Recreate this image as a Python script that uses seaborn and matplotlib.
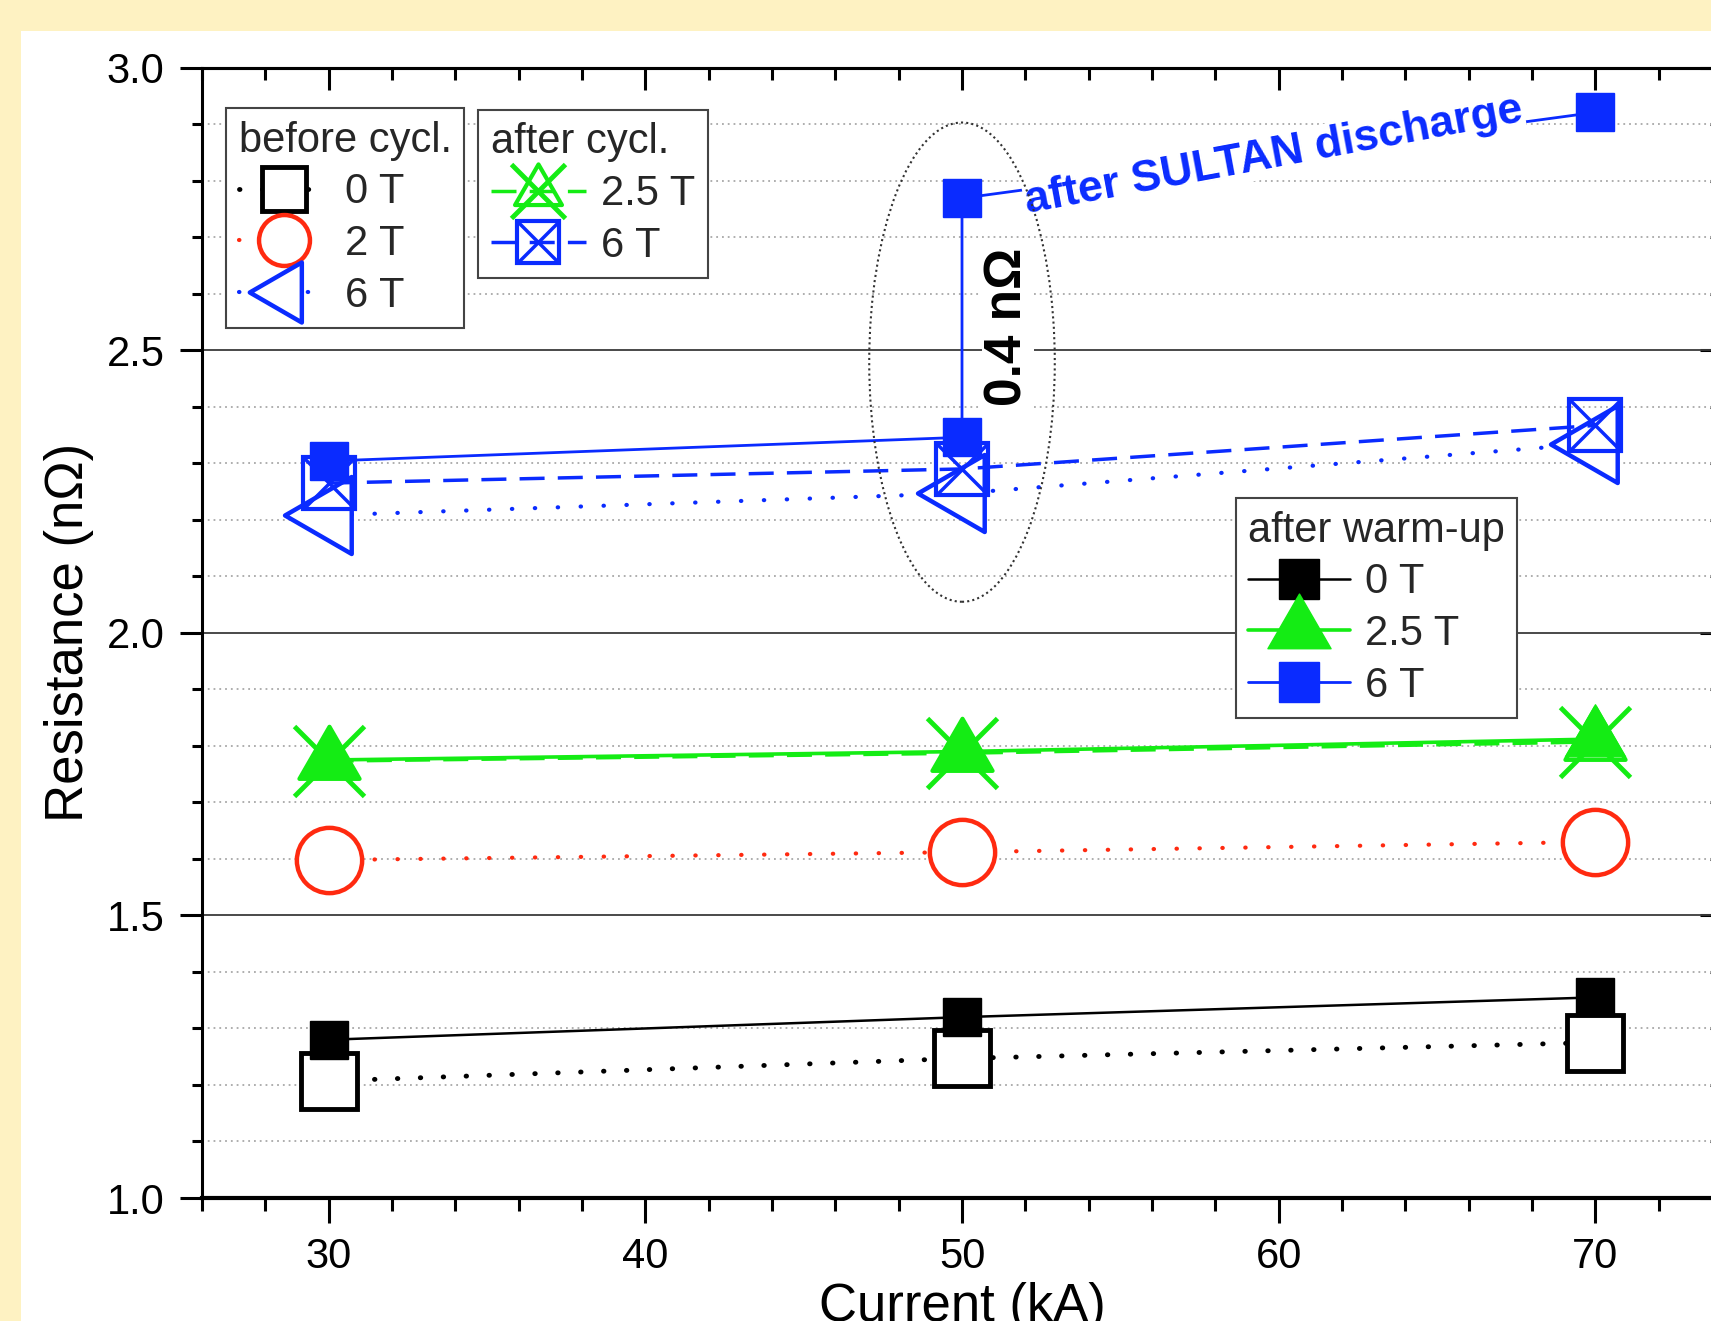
import numpy as np
import matplotlib
matplotlib.use("Agg")
import matplotlib.pyplot as plt
from matplotlib.patches import Ellipse, Rectangle
from matplotlib.path import Path
from matplotlib.ticker import MultipleLocator
from matplotlib.legend_handler import HandlerTuple
import seaborn as sns

# --- data ---
current = [30, 50, 70]

# before cycling: open markers, dotted lines
before_0T = [1.207, 1.247, 1.275]
before_2T = [1.598, 1.612, 1.630]
before_6T = [2.208, 2.247, 2.335]

# after cycling: crossed markers, dashed lines
cycl_25T = [1.773, 1.787, 1.807]
cycl_6T = [2.265, 2.290, 2.367]

# after warm-up: filled markers, solid lines
warm_0T = [1.280, 1.320, 1.355]
warm_25T = [1.775, 1.790, 1.812]
# 6 T at 30/50 kA, then the jump after SULTAN discharge (50 and 70 kA)
warm_6T_current = [30, 50, 50, 70]
warm_6T = [2.304, 2.346, 2.769, 2.921]

BLUE = "#0a2bff"
GREEN = "#14ec14"
RED = "#ff2a10"
YELLOW = "#fef2c2"

sns.set_theme(style="ticks")
plt.rcParams["font.family"] = ["Liberation Sans", "DejaVu Sans"]


def tri(angle):
    # equilateral triangle centred on its centroid, like Origin draws it
    a = np.deg2rad(angle + np.array([90, 210, 330]))
    v = np.column_stack([np.cos(a), np.sin(a)])
    return Path(np.vstack([v, v[:1]]), closed=True)


TRI_UP = tri(0)
TRI_LEFT = tri(90)


def dotted(lw):
    return (0, (0.1, 16.5 / lw - 0.1))


fig = plt.figure(figsize=(17.11, 13.21), dpi=100, facecolor=YELLOW)
panel = Rectangle((21 / 1711, 0), 1, 1 - 31 / 1321, transform=fig.transFigure,
                  facecolor="white", edgecolor="none", zorder=-10)
fig.add_artist(panel)
ax = fig.add_axes([202 / 1711, 1 - 1198 / 1321, 1520 / 1711, 1130.3 / 1321])
ax.set_facecolor("white")


def draw(x, y, **kw):
    sns.lineplot(x=x, y=y, ax=ax, estimator=None, sort=False, errorbar=None, **kw)
    return ax.lines[-1]


# before cycl.
l_b0 = draw(current, before_0T, color="black", lw=3.5, linestyle=dotted(3.5),
            dash_capstyle="round", marker="s", markersize=41, markerfacecolor="white",
            markeredgecolor="black", markeredgewidth=3.5)
l_b2 = draw(current, before_2T, color=RED, lw=3, linestyle=dotted(3),
            dash_capstyle="round", marker="o", markersize=47, markerfacecolor="white",
            markeredgecolor=RED, markeredgewidth=3.2)
l_b6 = draw(current, before_6T, color=BLUE, lw=3, linestyle=dotted(3),
            dash_capstyle="round", marker=TRI_LEFT, markersize=64, markerfacecolor="white",
            markeredgecolor=BLUE, markeredgewidth=3.2)

# after cycl.
l_c25 = draw(current, cycl_25T, color=GREEN, lw=2.5, linestyle=(0, (7.2, 3.8)),
             marker=TRI_UP, markersize=50, markerfacecolor="none",
             markeredgecolor=GREEN, markeredgewidth=3, zorder=1.5)
l_c25x = draw(current, cycl_25T, color=GREEN, linestyle="none", marker="x",
              markersize=50, markeredgecolor=GREEN, markeredgewidth=3.5)
l_c6 = draw(current, cycl_6T, color=BLUE, lw=2.5, linestyle=(0, (7.2, 3.8)),
            marker="s", markersize=38, markerfacecolor="none",
            markeredgecolor=BLUE, markeredgewidth=3)
l_c6x = draw(current, cycl_6T, color=BLUE, linestyle="none", marker="x",
             markersize=38, markeredgecolor=BLUE, markeredgewidth=2.5)

# after warm-up
l_w0 = draw(current, warm_0T, color="black", lw=1.8, marker="s", markersize=28,
            markerfacecolor="black", markeredgecolor="black", markeredgewidth=1)
l_w25 = draw(current, warm_25T, color=GREEN, lw=2.6, marker=TRI_UP, markersize=50,
             markerfacecolor=GREEN, markeredgecolor=GREEN, markeredgewidth=1)
l_w6 = draw(warm_6T_current, warm_6T, color=BLUE, lw=2, marker="s", markersize=28,
            markerfacecolor=BLUE, markeredgecolor=BLUE, markeredgewidth=1)

# annotations
ax.add_patch(Ellipse((50, 2.479), 5.86, 0.848, fill=False, edgecolor="#333333",
                     lw=1.5, linestyle=(0, (1, 1.5)), zorder=5))
ax.text(59.85, 2.845, "after SULTAN discharge", color=BLUE, fontsize=32,
        fontweight="bold", rotation=10.5, rotation_mode="anchor", ha="center",
        va="center", bbox=dict(facecolor="white", edgecolor="none", pad=1), zorder=4)
ax.text(51.45, 2.541, "0.4 n\u03a9", color="black", fontsize=37, fontweight="bold",
        rotation=90, ha="center", va="center",
        bbox=dict(facecolor="white", edgecolor="none", pad=1), zorder=4)

# axes
ax.set_xlim(26, 74)
ax.set_ylim(1.0, 3.0)
ax.xaxis.set_major_locator(MultipleLocator(10))
ax.xaxis.set_minor_locator(MultipleLocator(2))
ax.yaxis.set_major_locator(MultipleLocator(0.5))
ax.yaxis.set_minor_locator(MultipleLocator(0.1))
ax.yaxis.set_major_formatter(matplotlib.ticker.FormatStrFormatter("%.1f"))

ax.yaxis.grid(True, which="minor", linestyle=(0, (1, 2.2)), color="#a8a8a8", lw=1.3)
ax.yaxis.grid(True, which="major", linestyle="-", color="#3a3a3a", lw=1.3)
ax.xaxis.grid(False)
ax.set_axisbelow(True)

for side in ["left", "top", "right"]:
    ax.spines[side].set_linewidth(2.2)
    ax.spines[side].set_color("black")
ax.spines["bottom"].set_linewidth(3)
ax.spines["bottom"].set_color("black")

ax.tick_params(axis="y", which="major", direction="out", length=16, width=2.2,
               color="black", labelsize=30, labelcolor="black", pad=11)
ax.tick_params(axis="y", which="minor", direction="out", length=7.5, width=2.2, color="black")
ax.tick_params(axis="x", which="major", direction="out", length=18, width=2.2,
               color="black", labelsize=30, labelcolor="black", pad=10)
ax.tick_params(axis="x", which="minor", direction="out", length=9, width=2.2, color="black")

top = ax.secondary_xaxis("top")
top.xaxis.set_major_locator(MultipleLocator(10))
top.xaxis.set_minor_locator(MultipleLocator(2))
top.tick_params(which="major", direction="in", length=16, width=2.2, color="black", labeltop=False)
top.tick_params(which="minor", direction="in", length=8.5, width=2.2, color="black")
top.spines["top"].set_linewidth(2.2)

right = ax.secondary_yaxis("right")
right.yaxis.set_major_locator(MultipleLocator(0.5))
right.yaxis.set_minor_locator(MultipleLocator(0.1))
right.tick_params(which="major", direction="in", length=16, width=2.2, color="black", labelright=False)
right.tick_params(which="minor", direction="in", length=9, width=2.2, color="black")

ax.set_xlabel("Current (kA)", fontsize=38, color="black")
ax.set_ylabel("Resistance (n\u03a9)", fontsize=38, color="black")
ax.xaxis.set_label_coords(0.5, -0.074)
ax.yaxis.set_label_coords(-0.071, 0.5)

# legends
leg_kw = dict(loc="upper left", fontsize=30, title_fontsize=30, frameon=True,
              fancybox=False, framealpha=1, edgecolor="#444444", borderpad=0.3,
              labelspacing=0.28, handletextpad=0.35, borderaxespad=0, alignment="left")

leg1 = ax.legend([l_b0, l_b2, l_b6], ["0 T", "2 T", "6 T"], title="before cycl.",
                 bbox_to_anchor=(0.0158, 0.9643), handlelength=2.2, markerscale=0.78,
                 **leg_kw)
leg1.get_frame().set_linewidth(1.5)
ax.add_artist(leg1)

leg2 = ax.legend([(l_c25, l_c25x), (l_c6, l_c6x)], ["2.5 T", "6 T"], title="after cycl.",
                 bbox_to_anchor=(0.1816, 0.9626), handlelength=2.3, markerscale=0.78,
                 handler_map={tuple: HandlerTuple(ndivide=1, pad=0)}, **leg_kw)
leg2.get_frame().set_linewidth(1.5)
ax.add_artist(leg2)

leg3 = ax.legend([l_w0, l_w25, l_w6], ["0 T", "2.5 T", "6 T"], title="after warm-up",
                 bbox_to_anchor=(0.680, 0.6193), handlelength=2.45, markerscale=1.05,
                 **leg_kw)
leg3.get_frame().set_linewidth(1.5)

fig.savefig("out.png", dpi=100, facecolor=YELLOW)
